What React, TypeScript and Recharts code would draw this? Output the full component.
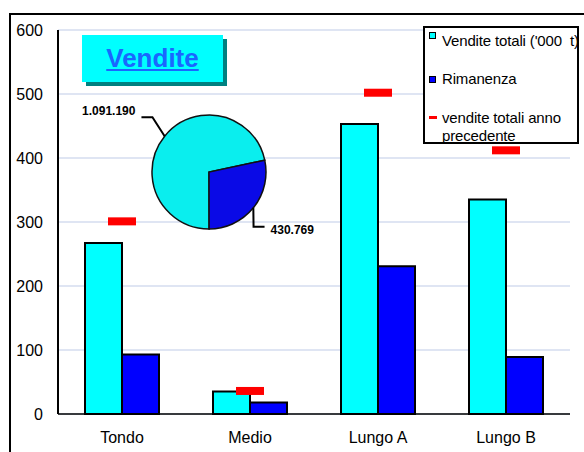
import React from 'react';
import {
  ComposedChart,
  Bar,
  Line,
  XAxis,
  YAxis,
  CartesianGrid,
  Legend,
  PieChart,
  Pie,
  Cell,
} from 'recharts';

const categories = ['Tondo', 'Medio', 'Lungo A', 'Lungo B'];
const venditeTotali = [267, 35, 453, 335];
const rimanenza = [93, 18, 231, 89];
const venditeAnnoPrec = [301, 36, 502, 412];
const yTicks = [0, 100, 200, 300, 400, 500, 600];

const pieNames = ['Vendite totali', 'Rimanenza'];
const pieValues = [1091190, 430769];
const pieColors = ['#0aeeee', '#0a0ae6'];

const seriesNames = ["Vendite totali ('000  t)", 'Rimanenza', 'vendite totali anno precedente'];

const FONT = '"Liberation Sans", Arial, sans-serif';

const data = categories.map((c, i) => ({
  cat: c,
  tot: venditeTotali[i],
  rim: rimanenza[i],
  prev: venditeAnnoPrec[i],
}));

const pieData = pieNames.map((n, i) => ({ name: n, value: pieValues[i] }));

const fmt = (v: number) => String(v).replace(/\B(?=(\d{3})+(?!\d))/g, '.');

const RADIAN = Math.PI / 180;

const renderDash = (props: any) => {
  const { cx, cy, index } = props;
  if (cx == null || cy == null) return <g key={`d-${index}`} />;
  return <rect key={`d-${index}`} x={cx - 14} y={cy - 4} width={28} height={8} fill="#ff0000" />;
};

const renderPieLabel = (props: any) => {
  const { cx, cy, midAngle, outerRadius, value, index } = props;
  const c = Math.cos(-midAngle * RADIAN);
  const s = Math.sin(-midAngle * RADIAN);
  const x0 = cx + outerRadius * c;
  const y0 = cy + outerRadius * s;
  const ex = x0 + c * 8 - 6;
  const ey = y0 + s * 30;
  const dir = c >= 0 ? 1 : -1;
  const hx = ex + dir * 11;
  const tx = hx + dir * 6;
  const ty = ey + (s < 0 ? -6 : 3);
  return (
    <g key={`pl-${index}`}>
      <polyline
        points={`${x0},${y0} ${ex},${ey} ${hx},${ey}`}
        fill="none"
        stroke="#000"
        strokeWidth={2}
      />
      <text
        x={tx}
        y={ty}
        textAnchor={dir > 0 ? 'start' : 'end'}
        dominantBaseline="central"
        fontFamily={FONT}
        fontWeight="bold"
        fontSize={12}
        fill="#000"
      >
        {fmt(value)}
      </text>
    </g>
  );
};

const renderLegend = () => {
  const textStyle: React.CSSProperties = {
    position: 'absolute',
    left: 17,
    fontSize: 15,
    lineHeight: '17.5px',
    color: '#000',
    whiteSpace: 'pre',
    letterSpacing: -0.15,
  };
  const sq = (bg: string, top: number): React.CSSProperties => ({
    position: 'absolute',
    left: 4,
    top,
    width: 5,
    height: 5,
    background: bg,
    border: '1.5px solid #000',
  });
  return (
    <div
      style={{
        position: 'relative',
        width: 156,
        height: 118,
        boxSizing: 'border-box',
        border: '2px solid #000',
        background: '#fff',
        overflow: 'hidden',
        fontFamily: FONT,
      }}
    >
      <div style={sq('#00ffff', 4)} />
      <div style={{ ...textStyle, top: 3.5 }}>{seriesNames[0]}</div>
      <div style={sq('#0000ff', 48)} />
      <div style={{ ...textStyle, top: 42 }}>{seriesNames[1]}</div>
      <div style={{ position: 'absolute', left: 4, top: 88, width: 8, height: 3, background: '#ff0000' }} />
      <div style={{ ...textStyle, top: 81, whiteSpace: 'normal', width: 135 }}>
        vendite totali anno
        <br />
        precedente
      </div>
    </div>
  );
};

export default function App() {
  return (
    <div
      style={{
        position: 'absolute',
        left: 0,
        top: 0,
        width: 584,
        height: 452,
        overflow: 'hidden',
        background: '#fff',
        fontFamily: FONT,
      }}
    >
      <div
        style={{
          position: 'absolute',
          left: 9,
          top: 13,
          width: 700,
          height: 600,
          border: '2px solid #000',
        }}
      />
      <div style={{ position: 'absolute', left: 0, top: 0 }}>
        <ComposedChart
          width={584}
          height={452}
          data={data}
          margin={{ top: 30, right: 14, bottom: 8, left: 8 }}
          barCategoryGap={27}
          barGap={0}
        >
          <CartesianGrid vertical={false} stroke="#d5dcef" strokeWidth={1.5} />
          <XAxis
            dataKey="cat"
            height={30}
            interval={0}
            axisLine={{ stroke: '#000', strokeWidth: 1.5 }}
            tickLine={false}
            tickSize={0}
            tickMargin={18}
            tick={{ fill: '#000', fontSize: 16, fontFamily: FONT }}
          />
          <YAxis
            width={50}
            domain={[0, 600]}
            ticks={yTicks}
            interval={0}
            axisLine={{ stroke: '#000', strokeWidth: 2 }}
            tickLine={false}
            tickSize={0}
            tickMargin={15}
            tick={{ fill: '#000', fontSize: 16, fontFamily: FONT }}
          />
          <Bar dataKey="tot" name={seriesNames[0]} fill="#00ffff" stroke="#000" strokeWidth={2} isAnimationActive={false} />
          <Bar dataKey="rim" name={seriesNames[1]} fill="#0000ff" stroke="#000" strokeWidth={2} isAnimationActive={false} />
          <Line
            dataKey="prev"
            name={seriesNames[2]}
            stroke="none"
            dot={renderDash}
            activeDot={false}
            isAnimationActive={false}
          />
          <Legend
            layout="horizontal"
            verticalAlign="middle"
            align="center"
            content={renderLegend}
            wrapperStyle={{ position: 'absolute', left: 423, top: 26, width: 156, height: 118, margin: 0 }}
          />
        </ComposedChart>
      </div>
      <div
        style={{
          position: 'absolute',
          left: 86,
          top: 39,
          width: 141,
          height: 47,
          background: '#008080',
        }}
      />
      <div
        style={{
          position: 'absolute',
          left: 82,
          top: 35,
          width: 141,
          height: 47,
          background: '#00ffff',
          display: 'flex',
          alignItems: 'center',
          justifyContent: 'center',
        }}
      >
        <span
          style={{
            fontWeight: 'bold',
            fontSize: 26,
            color: '#1a66ff',
            textDecoration: 'underline',
            fontFamily: FONT,
          }}
        >
          Vendite
        </span>
      </div>
      <div style={{ position: 'absolute', left: 0, top: 0, pointerEvents: 'none' }}>
        <PieChart width={584} height={452} margin={{ top: 0, right: 0, bottom: 0, left: 0 }}>
          <Pie
            data={pieData}
            dataKey="value"
            nameKey="name"
            cx={209}
            cy={172}
            outerRadius={57}
            startAngle={12}
            endAngle={372}
            stroke="#111"
            strokeWidth={1.5}
            label={renderPieLabel}
            labelLine={false}
            isAnimationActive={false}
          >
            {pieData.map((d, i) => (
              <Cell key={d.name} fill={pieColors[i]} />
            ))}
          </Pie>
        </PieChart>
      </div>
    </div>
  );
}
